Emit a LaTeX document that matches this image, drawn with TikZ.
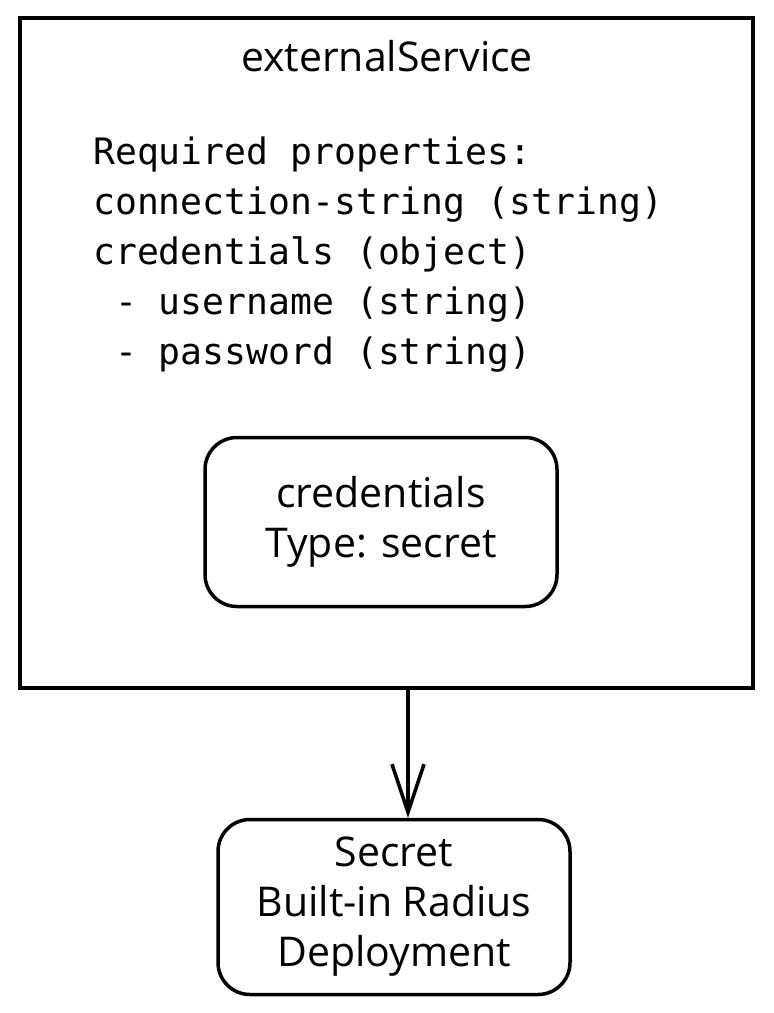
\documentclass[tikz,border=0pt]{standalone}
\usepackage{fontspec}
\setmainfont{Open Sans}
\setmonofont{DejaVu Sans Mono}
\usetikzlibrary{arrows.meta}

\begin{document}
\begin{tikzpicture}[x=1pt,y=-1pt,
  box/.style={draw,line width=3.5pt,rounded corners=32pt,inner sep=0pt},
  hand/.style={font=\fontsize{41}{50}\selectfont,align=center},
  code/.style={font=\ttfamily\fontsize{36.4}{50}\selectfont,align=left}]
\useasboundingbox (0,0) rectangle (774,1013);
% Outer box
\node (svc) [draw,line width=3.5pt,minimum width=733pt,minimum height=670pt,inner sep=0pt] at (386.5,353) {};
\node (title) [hand] at (387,56) {externalService};
% Properties
\node (props) [code,anchor=west,inner sep=0pt] at (93,255) {Required properties:\\connection-string (string)\\credentials (object)\\\ - username (string)\\\ - password (string)};
% Inner box
\node (cred) [box,hand,minimum width=352pt,minimum height=169pt] at (381,522) {credentials\\Type: secret};
% Target
\node (secret) [box,hand,minimum width=352pt,minimum height=175pt] at (394,907) {Secret\\Built-in Radius\\Deployment};
% Arrow
\coordinate (out) at ([xshift=21.5pt]svc.south);
\draw [-{Straight Barb[length=48pt,width=32pt,line width=3.5pt]},line width=3.5pt] (out) -- (out |- secret.north);
\end{tikzpicture}
\end{document}
